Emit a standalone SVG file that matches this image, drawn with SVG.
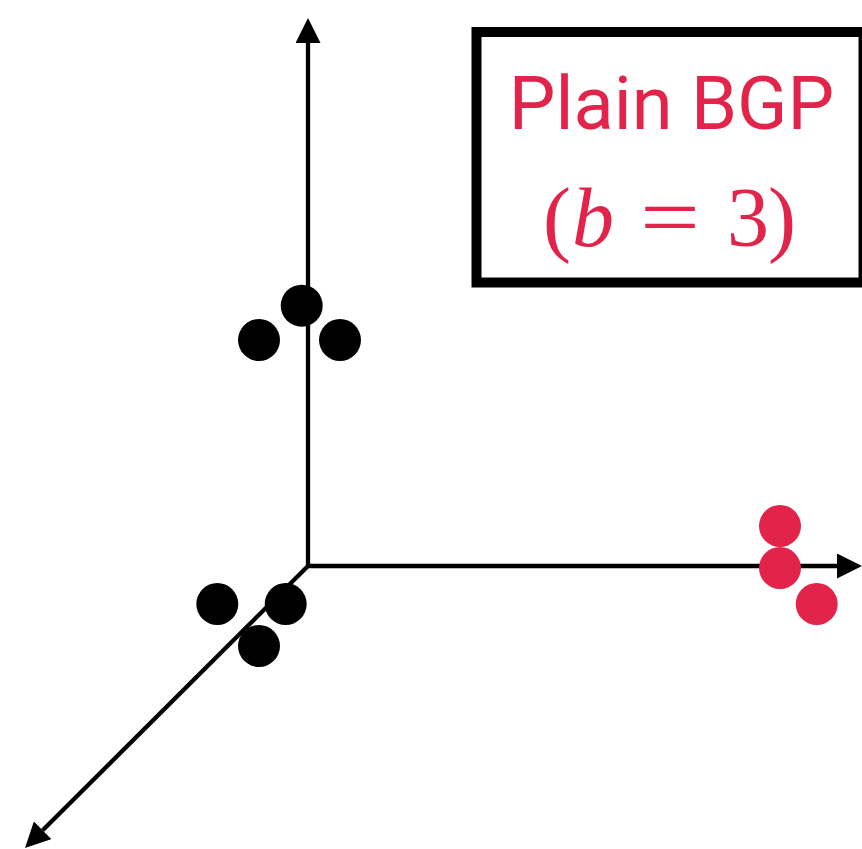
<svg xmlns="http://www.w3.org/2000/svg" width="862" height="849" viewBox="0 0 862 849">
  <style>
    .axis { stroke: #000; stroke-width: 4.3; fill: none; }
    .dot { fill: #000; }
    .red { fill: #E2234A; }
    .title { font-family: Roboto, "Liberation Sans", sans-serif; font-size: 74px; fill: #E2234A; }
    .math { font-family: "Liberation Serif", "DejaVu Serif", serif; font-size: 84px; fill: #E2234A; }
  </style>
  <defs>
    <marker id="arrow" markerUnits="userSpaceOnUse" markerWidth="25" markerHeight="25" refX="0" refY="12.5" orient="auto" viewBox="0 0 25 25">
      <path d="M0,0 L25,12.5 L0,25 z" fill="#000"/>
    </marker>
  </defs>
  <rect width="862" height="849" fill="#fff"/>
  <g id="connectors">
    <line class="axis" x1="308" y1="566" x2="308" y2="43" marker-end="url(#arrow)"/>
    <line class="axis" x1="306" y1="566" x2="837" y2="566" marker-end="url(#arrow)"/>
    <line class="axis" x1="308" y1="566" x2="42.7" y2="830.3" marker-end="url(#arrow)"/>
  </g>
  <g id="cluster-top">
    <circle class="dot" cx="301.7" cy="305.7" r="21"/>
    <circle class="dot" cx="259" cy="340" r="21"/>
    <circle class="dot" cx="340" cy="340" r="21"/>
  </g>
  <g id="cluster-front">
    <circle class="dot" cx="217.3" cy="604" r="21"/>
    <circle class="dot" cx="285.7" cy="604" r="21"/>
    <circle class="dot" cx="259" cy="646" r="21"/>
  </g>
  <g id="cluster-right">
    <circle class="red" cx="780" cy="526" r="21"/>
    <circle class="red" cx="780" cy="568" r="21"/>
    <circle class="red" cx="816.7" cy="604" r="21"/>
  </g>
  <g id="legend">
    <rect x="476.5" y="32" width="387" height="250.5" fill="#fff" stroke="#000" stroke-width="10"/>
    <text class="title" x="671.5" y="129" text-anchor="middle">Plain BGP</text>
    <text class="math" y="246"><tspan x="543">(</tspan><tspan x="572" font-style="italic">b</tspan><tspan x="640" textLength="60" lengthAdjust="spacingAndGlyphs">=</tspan><tspan x="727">3</tspan><tspan x="768">)</tspan></text>
  </g>
</svg>
